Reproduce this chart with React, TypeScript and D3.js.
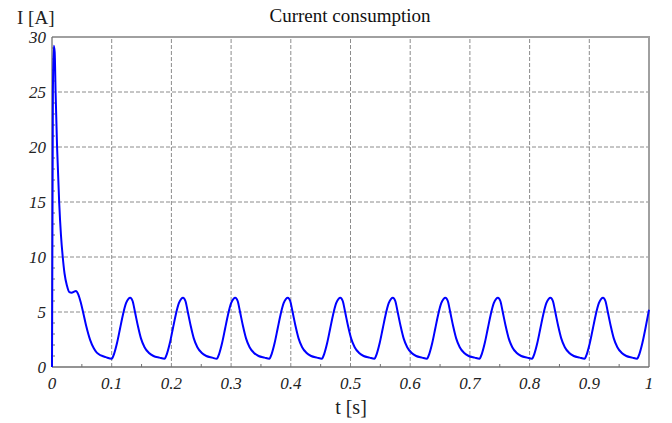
import React from "react";
import * as d3 from "d3";

const title = "Current consumption";
const yLabel = "I [A]";
const xLabel = "t [s]";
const xTicks = [0, 0.1, 0.2, 0.3, 0.4, 0.5, 0.6, 0.7, 0.8, 0.9, 1];
const yTicks = [0, 5, 10, 15, 20, 25, 30];

// time [s]
const timeData = [
  0, 0.0015, 0.003, 0.0045, 0.006, 0.0085, 0.012, 0.015, 0.018, 0.021, 0.025, 0.029, 0.033, 0.037, 0.040, 0.044, 0.048, 0.052, 0.057, 0.064, 0.070, 0.075, 0.082, 0.090,
  0.100, 0.104, 0.109, 0.114, 0.119, 0.124, 0.128, 0.131, 0.135, 0.139, 0.144, 0.149, 0.155, 0.162, 0.170, 0.180,
  0.1885, 0.1925, 0.1975, 0.2025, 0.2075, 0.2125, 0.2165, 0.2195, 0.2235, 0.2275, 0.2325, 0.2375, 0.2435, 0.2505, 0.2585, 0.2685,
  0.276, 0.280, 0.285, 0.290, 0.295, 0.300, 0.304, 0.307, 0.311, 0.315, 0.320, 0.325, 0.331, 0.338, 0.346, 0.356,
  0.364, 0.368, 0.373, 0.378, 0.383, 0.388, 0.392, 0.395, 0.399, 0.403, 0.408, 0.413, 0.419, 0.426, 0.434, 0.444,
  0.452, 0.456, 0.461, 0.466, 0.471, 0.476, 0.480, 0.483, 0.487, 0.491, 0.496, 0.501, 0.507, 0.514, 0.522, 0.532,
  0.540, 0.544, 0.549, 0.554, 0.559, 0.564, 0.568, 0.571, 0.575, 0.579, 0.584, 0.589, 0.595, 0.602, 0.610, 0.620,
  0.628, 0.632, 0.637, 0.642, 0.647, 0.652, 0.656, 0.659, 0.663, 0.667, 0.672, 0.677, 0.683, 0.690, 0.698, 0.708,
  0.716, 0.720, 0.725, 0.730, 0.735, 0.740, 0.744, 0.747, 0.751, 0.755, 0.760, 0.765, 0.771, 0.778, 0.786, 0.796,
  0.804, 0.808, 0.813, 0.818, 0.823, 0.828, 0.832, 0.835, 0.839, 0.843, 0.848, 0.853, 0.859, 0.866, 0.874, 0.884,
  0.892, 0.896, 0.901, 0.906, 0.911, 0.916, 0.920, 0.923, 0.927, 0.931, 0.936, 0.941, 0.947, 0.954, 0.962, 0.972,
  0.980, 0.984, 0.989, 0.994, 1.0,
];

// current [A]
const currentData = [
  0, 25, 29.2, 28.6, 25, 20, 15, 12, 10, 8.5, 7.4, 6.8, 6.75, 6.85, 6.9, 6.6, 5.9, 5.0, 3.8, 2.45, 1.7, 1.3, 1.05, 0.9,
  0.75, 1.2, 2.2, 3.5, 4.8, 5.8, 6.2, 6.3, 6.0, 5.0, 3.7, 2.6, 1.8, 1.3, 1.0, 0.85,
  0.75, 1.2, 2.2, 3.5, 4.8, 5.8, 6.2, 6.3, 6.0, 5.0, 3.7, 2.6, 1.8, 1.3, 1.0, 0.85,
  0.75, 1.2, 2.2, 3.5, 4.8, 5.8, 6.2, 6.3, 6.0, 5.0, 3.7, 2.6, 1.8, 1.3, 1.0, 0.85,
  0.75, 1.2, 2.2, 3.5, 4.8, 5.8, 6.2, 6.3, 6.0, 5.0, 3.7, 2.6, 1.8, 1.3, 1.0, 0.85,
  0.75, 1.2, 2.2, 3.5, 4.8, 5.8, 6.2, 6.3, 6.0, 5.0, 3.7, 2.6, 1.8, 1.3, 1.0, 0.85,
  0.75, 1.2, 2.2, 3.5, 4.8, 5.8, 6.2, 6.3, 6.0, 5.0, 3.7, 2.6, 1.8, 1.3, 1.0, 0.85,
  0.75, 1.2, 2.2, 3.5, 4.8, 5.8, 6.2, 6.3, 6.0, 5.0, 3.7, 2.6, 1.8, 1.3, 1.0, 0.85,
  0.75, 1.2, 2.2, 3.5, 4.8, 5.8, 6.2, 6.3, 6.0, 5.0, 3.7, 2.6, 1.8, 1.3, 1.0, 0.85,
  0.75, 1.2, 2.2, 3.5, 4.8, 5.8, 6.2, 6.3, 6.0, 5.0, 3.7, 2.6, 1.8, 1.3, 1.0, 0.85,
  0.75, 1.2, 2.2, 3.5, 4.8, 5.8, 6.2, 6.3, 6.0, 5.0, 3.7, 2.6, 1.8, 1.3, 1.0, 0.85,
  0.75, 1.2, 2.2, 3.5, 5.2,
];

const W = 672;
const H = 423;
const M = { left: 52, right: 23, top: 37, bottom: 56 };

export default function App() {
  const x = d3.scaleLinear().domain([0, 1]).range([M.left, W - M.right]);
  const y = d3.scaleLinear().domain([0, 30]).range([H - M.bottom, M.top]);
  const pts: [number, number][] = timeData.map((t, i) => [t, currentData[i]]);
  const line = d3
    .line<[number, number]>()
    .x((d) => x(d[0]))
    .y((d) => y(d[1]))
    .curve(d3.curveMonotoneX);
  const xMinor = d3.range(0.05, 1, 0.1);
  const yMinor = d3.range(0, 31, 1).filter((v) => v % 5 !== 0);
  const font = "'Liberation Serif', 'Times New Roman', serif";
  const x0 = x(0), x1 = x(1), y0 = y(0), y1 = y(30);

  return (
    <svg
      width={W}
      height={H}
      style={{ position: "absolute", left: 0, top: 0, background: "#fff" }}
      fontFamily={font}
    >
      <rect x={0} y={0} width={W} height={H} fill="#fff" />
      {/* grid */}
      {xTicks.slice(1, -1).map((t) => (
        <line key={"gx" + t} x1={x(t)} x2={x(t)} y1={y0} y2={y1} stroke="#8c8c8c" strokeWidth={1} strokeDasharray="4,2" />
      ))}
      {yTicks.slice(1, -1).map((v) => (
        <line key={"gy" + v} x1={x0} x2={x1} y1={y(v)} y2={y(v)} stroke="#8c8c8c" strokeWidth={1} strokeDasharray="4,2" />
      ))}
      {/* frame */}
      <line x1={x0} x2={x1 + 1} y1={y1} y2={y1} stroke="#a0a0a0" strokeWidth={2} />
      <line x1={x1} x2={x1} y1={y1} y2={y0} stroke="#a0a0a0" strokeWidth={2} />
      <line x1={x0} x2={x0} y1={y1} y2={y0} stroke="#707070" strokeWidth={1.3} />
      <line x1={x0} x2={x1} y1={y0} y2={y0} stroke="#707070" strokeWidth={1.3} />
      {/* minor ticks */}
      {yMinor.map((v) => (
        <line key={"my" + v} x1={x0} x2={x0 + 3} y1={y(v)} y2={y(v)} stroke="#707070" strokeWidth={1} />
      ))}
      {xMinor.map((t) => (
        <line key={"mx" + t} x1={x(t)} x2={x(t)} y1={y0} y2={y0 - 3} stroke="#707070" strokeWidth={1} />
      ))}
      {/* curve */}
      <path d={line(pts) || ""} fill="none" stroke="#0000ff" strokeWidth={2} strokeLinejoin="round" />
      {/* tick labels */}
      {yTicks.map((v) => (
        <text key={"ty" + v} x={x0 - 6} y={y(v) + 6} textAnchor="end" fontSize={17} fontStyle="italic" fill="#222">
          {v}
        </text>
      ))}
      {xTicks.map((t) => (
        <text key={"tx" + t} x={x(t)} y={y0 + 22} textAnchor="middle" fontSize={17} fontStyle="italic" fill="#222">
          {String(t)}
        </text>
      ))}
      {/* labels */}
      <text x={350} y={22} textAnchor="middle" fontSize={19} fill="#111">
        {title}
      </text>
      <text x={17} y={24} fontSize={19} fill="#222">
        {yLabel}
      </text>
      <text x={351} y={414} textAnchor="middle" fontSize={20} fill="#222">
        {xLabel}
      </text>
    </svg>
  );
}
